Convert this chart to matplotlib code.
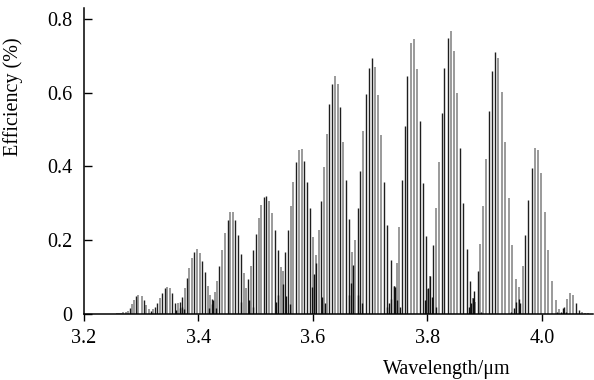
import matplotlib

matplotlib.use("Agg")

import matplotlib.pyplot as plt
from matplotlib.ticker import FuncFormatter

# grey stems (main orders)
wl_grey = [3.2575, 3.2615, 3.2650, 3.2690, 3.2732, 3.2767, 3.2837, 3.2872, 3.2952, 3.3011,
           3.3092, 3.3139, 3.3214, 3.3326, 3.3459, 3.3506, 3.3645, 3.3762, 3.3843, 3.3890,
           3.3972, 3.4024, 3.4164, 3.4210, 3.4286, 3.4332, 3.4409, 3.4466, 3.4548, 3.4601,
           3.4793, 3.4838, 3.4915, 3.5055, 3.5095, 3.5230, 3.5282, 3.5439, 3.5485, 3.5619,
           3.5659, 3.5754, 3.5806, 3.5998, 3.6056, 3.6108, 3.6190, 3.6243, 3.6383, 3.6435,
           3.6533, 3.6690, 3.6742, 3.6882, 3.7086, 3.7134, 3.7191, 3.7465, 3.7506, 3.7710,
           3.7768, 3.7820, 3.8017, 3.8052, 3.8147, 3.8199, 3.8409, 3.8461, 3.8519, 3.8793,
           3.8833, 3.8915, 3.8968, 3.9025, 3.9240, 3.9300, 3.9352, 3.9422, 3.9474, 3.9544,
           3.9607, 3.9666, 3.9872, 3.9925, 3.9991, 4.0047, 4.0103, 4.0173, 4.0243, 4.0295,
           4.0435, 4.0487, 4.0540, 4.0702, 4.0755, 4.0807]
eff_grey = [0.003, 0.003, 0.003, 0.004, 0.005, 0.008, 0.027, 0.038, 0.052, 0.049,
            0.024, 0.013, 0.014, 0.043, 0.072, 0.070, 0.029, 0.070, 0.124, 0.151,
            0.175, 0.165, 0.077, 0.050, 0.060, 0.090, 0.174, 0.219, 0.277, 0.277,
            0.112, 0.071, 0.131, 0.259, 0.295, 0.306, 0.273, 0.126, 0.117, 0.294,
            0.357, 0.445, 0.447, 0.208, 0.160, 0.228, 0.398, 0.488, 0.645, 0.624,
            0.467, 0.167, 0.201, 0.496, 0.671, 0.594, 0.484, 0.138, 0.235, 0.736,
            0.745, 0.664, 0.067, 0.103, 0.288, 0.411, 0.767, 0.713, 0.598, 0.043,
            0.033, 0.190, 0.293, 0.420, 0.693, 0.601, 0.466, 0.315, 0.187, 0.095,
            0.073, 0.131, 0.451, 0.445, 0.381, 0.277, 0.172, 0.089, 0.037, 0.013,
            0.040, 0.056, 0.051, 0.004, 0.002, 0.002]

# black stems
wl_black = [3.2802, 3.2912, 3.3052, 3.3249, 3.3284, 3.3371, 3.3424, 3.3546, 3.3598, 3.3686,
            3.3721, 3.3808, 3.3930, 3.4070, 3.4117, 3.4245, 3.4367, 3.4514, 3.4646, 3.4688,
            3.4741, 3.4873, 3.4961, 3.5003, 3.5142, 3.5188, 3.5345, 3.5387, 3.5520, 3.5572,
            3.5712, 3.5852, 3.5904, 3.5956, 3.6148, 3.6288, 3.6330, 3.6480, 3.6585, 3.6638,
            3.6795, 3.6830, 3.6934, 3.6987, 3.7039, 3.7249, 3.7301, 3.7361, 3.7418, 3.7563,
            3.7605, 3.7651, 3.7878, 3.7930, 3.7983, 3.8105, 3.8257, 3.8297, 3.8356, 3.8576,
            3.8629, 3.8688, 3.8746, 3.8880, 3.9078, 3.9135, 3.9188, 3.9712, 3.9764, 3.9820,
            4.0382, 4.0597, 4.0650]
eff_black = [0.017, 0.049, 0.038, 0.020, 0.029, 0.056, 0.070, 0.058, 0.030, 0.032,
             0.045, 0.096, 0.167, 0.144, 0.113, 0.040, 0.131, 0.255, 0.255, 0.214,
             0.163, 0.095, 0.172, 0.216, 0.316, 0.320, 0.228, 0.174, 0.167, 0.228,
             0.412, 0.416, 0.359, 0.287, 0.307, 0.570, 0.624, 0.562, 0.363, 0.258,
             0.287, 0.388, 0.597, 0.666, 0.693, 0.357, 0.241, 0.146, 0.077, 0.363,
             0.510, 0.645, 0.522, 0.356, 0.210, 0.187, 0.544, 0.666, 0.748, 0.451,
             0.301, 0.177, 0.090, 0.115, 0.551, 0.659, 0.711, 0.214, 0.309, 0.397,
             0.018, 0.029, 0.011]

# short dark stems near the minima
wl_base = [3.3174, 3.3610, 3.3680, 3.3721, 3.3755, 3.4187, 3.4234, 3.4262, 3.4309, 3.4741,
           3.4891, 3.4950, 3.5352, 3.5397, 3.5485, 3.5532, 3.5602, 3.5981, 3.6021, 3.6056,
           3.6161, 3.6213, 3.6627, 3.6667, 3.6707, 3.6795, 3.6865, 3.7291, 3.7331, 3.7366,
           3.7413, 3.7436, 3.7476, 3.7523, 3.7960, 3.8007, 3.8047, 3.8087, 3.8147, 3.8728,
           3.8763, 3.8798, 3.8821, 3.8933, 3.9462, 3.9520, 3.9555, 3.9597, 3.9619, 4.0271,
           4.0341, 4.0376, 4.0418]
eff_base = [0.008, 0.011, 0.015, 0.020, 0.014, 0.015, 0.027, 0.038, 0.017, 0.031,
            0.038, 0.020, 0.031, 0.052, 0.081, 0.049, 0.027, 0.074, 0.108, 0.137,
            0.047, 0.030, 0.052, 0.084, 0.133, 0.052, 0.030, 0.020, 0.030, 0.040,
            0.077, 0.074, 0.038, 0.020, 0.038, 0.069, 0.103, 0.047, 0.020, 0.020,
            0.030, 0.042, 0.063, 0.004, 0.006, 0.015, 0.033, 0.041, 0.030, 0.004,
            0.006, 0.015, 0.004]

x_ticks = [3.2, 3.4, 3.6, 3.8, 4.0]
y_ticks = [0, 0.2, 0.4, 0.6, 0.8]

plt.rcParams["font.family"] = ["Liberation Serif", "DejaVu Serif"]

fig = plt.figure(figsize=(5.94, 3.8), dpi=100)
ax = fig.add_axes([0.141, 0.174, 0.857, 0.805])

ax.vlines(wl_grey, 0, eff_grey, colors="#9a9a9a", linewidths=1.4)
ax.vlines(wl_black, 0, eff_black, colors="#1e1e1e", linewidths=1.0)
ax.vlines(wl_base, 0, eff_base, colors="#111111", linewidths=1.0)

ax.set_xlim(3.2, 4.089)
ax.set_ylim(0, 0.83)
ax.set_xticks(x_ticks)
ax.set_yticks(y_ticks)
ax.xaxis.set_major_formatter(FuncFormatter(lambda v, p: f"{v:.1f}"))
ax.yaxis.set_major_formatter(FuncFormatter(lambda v, p: "0" if v == 0 else f"{v:.1f}"))

ax.spines["top"].set_visible(False)
ax.spines["right"].set_visible(False)
ax.spines["left"].set_linewidth(1.1)
ax.spines["bottom"].set_linewidth(1.1)

ax.tick_params(axis="x", direction="out", length=5, width=1, labelsize=14.5, pad=6)
ax.tick_params(axis="y", direction="in", length=6, width=1, labelsize=14.5, pad=8)

ax.set_xlabel("Wavelength/μm", fontsize=14.5)
ax.set_ylabel("Efficiency (%)", fontsize=14.5)
ax.xaxis.set_label_coords(0.713, -0.15)
ax.yaxis.set_label_coords(-0.12, 0.71)

fig.savefig("out.png", dpi=100)
